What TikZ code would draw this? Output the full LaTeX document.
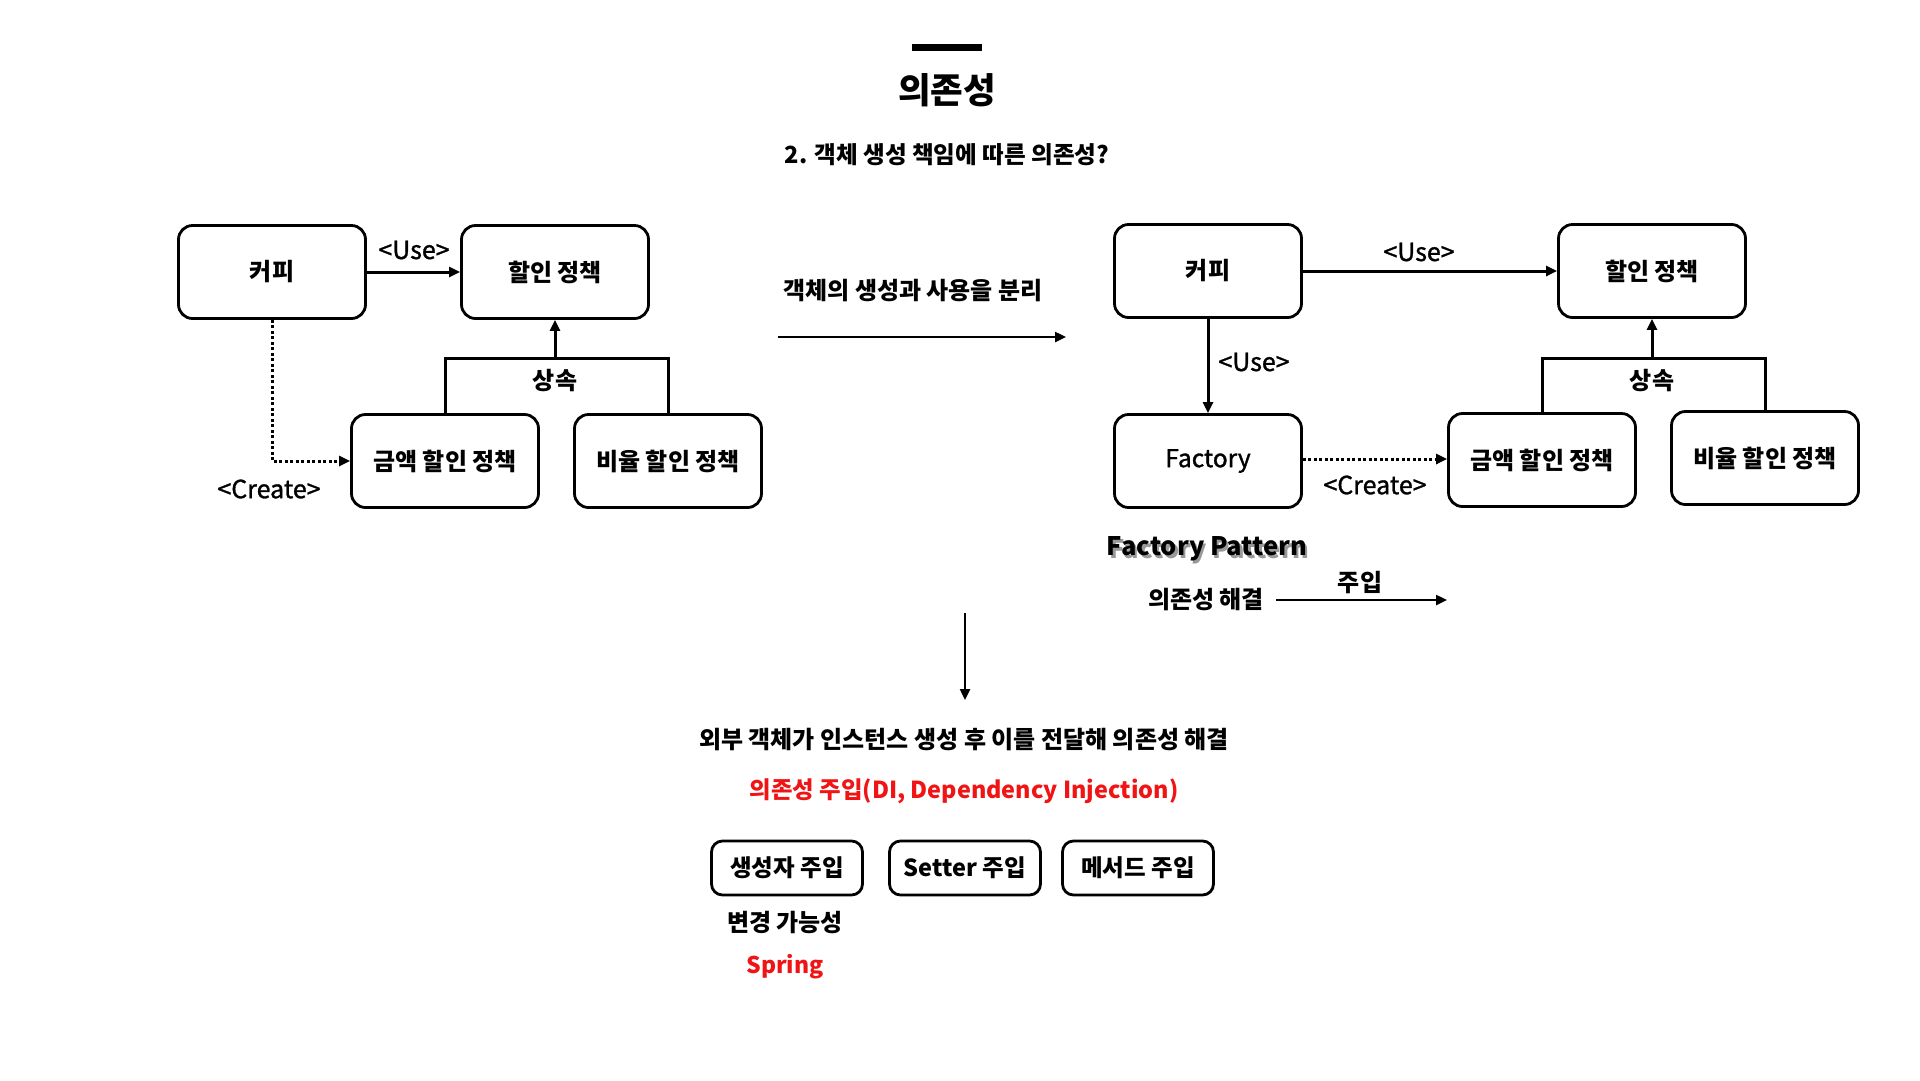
\documentclass[tikz,border=0pt]{standalone}
\usepackage{fontspec}
\setmainfont{Noto Sans CJK KR}
\newfontfamily\medfont{Noto Sans CJK KR}[FakeBold=1.2]
\usetikzlibrary{arrows.meta}
\definecolor{myred}{RGB}{240,20,20}
\tikzset{
  box/.style={draw, line width=2.8pt, rounded corners=14pt, minimum width=187pt, minimum height=93pt, font=\fontsize{24}{28}\selectfont\bfseries, inner sep=0pt},
  sbox/.style={draw, line width=2.8pt, rounded corners=11pt, minimum width=151pt, minimum height=54pt, font=\fontsize{23.5}{28}\selectfont\bfseries, inner sep=0pt},
  arr/.style={line width=3pt, -{Triangle[length=11pt,width=10pt]}},
  thinarr/.style={line width=2.4pt, -{Triangle[length=11pt,width=10pt]}},
  dotarr/.style={line width=3pt, dash pattern=on 3pt off 2.5pt, -{Triangle[length=11pt,width=10pt]}},
  lbl/.style={font=\fontsize{25}{29}\medfont, inner sep=0pt},
  txt/.style={font=\fontsize{24}{28}\selectfont\bfseries, inner sep=0pt},
  redtxt/.style={font=\fontsize{23.4}{27}\selectfont\bfseries, text=myred, inner sep=0pt},
}
\begin{document}
\begin{tikzpicture}[x=1pt,y=-1pt]
\useasboundingbox (0,0) rectangle (1920,1080);
\fill[white] (0,0) rectangle (1920,1080);
% title
\fill (912,44) rectangle (982,51);
\node[font=\fontsize{35.5}{40}\selectfont\bfseries, inner sep=0pt] (title) at (947,90) {의존성};
\node[txt, font=\fontsize{23.6}{28}\selectfont\bfseries] (sub) at (947,155) {2. 객체 생성 책임에 따른 의존성?};

% left section
\node[box] (lcof) at (272,272) {커피};
\node[box] (lhal) at (555,272) {할인 정책};
\node[box] (lkam) at (445,461) {금액 할인 정책};
\node[box] (lrat) at (668,461) {비율 할인 정책};
\draw[arr] (lcof.east) -- (lhal.west);
\node[lbl] (luse) at (414,250) {<Use>};
\coordinate (lcr) at (272,461);
\draw[dotarr] (lcof.south) -- (lcr) -- (lkam.west);
\node[lbl] (lcreate) at (269,489) {<Create>};
\coordinate (lj) at (555,358);
\draw[line width=3pt] (lkam.north) |- (lj) -| (lrat.north);
\draw[arr] (lj) -- (lhal.south);
\node[txt] (linh) at (555,381) {상속};

% middle arrow
\coordinate (ma) at (778,337);
\coordinate (mb) at (1066,337);
\draw[thinarr] (ma) -- (mb);
\node[txt] (sep) at (913,291) {객체의 생성과 사용을 분리};

% right section
\node[box] (rcof) at (1208,271) {커피};
\node[box] (rhal) at (1652,271) {할인 정책};
\node[box, font=\fontsize{24.5}{28}\medfont] (rfac) at (1208,461) {Factory};
\node[box] (rkam) at (1542,460) {금액 할인 정책};
\node[box] (rrat) at (1765,458) {비율 할인 정책};
\draw[arr] (rcof.east) -- (rhal.west);
\node[lbl] (ruse1) at (1419,252) {<Use>};
\draw[arr] (rcof.south) -- (rfac.north);
\node[lbl] (ruse2) at (1254,362) {<Use>};
\draw[dotarr] (rfac.east |- 0,459) -- (rkam.west |- 0,459);
\node[lbl] (rcreate) at (1375,485) {<Create>};
\coordinate (rj) at (1652,358);
\draw[line width=3pt] (rkam.north) |- (rj) -| (rrat.north);
\draw[arr] (rj) -- (rhal.south);
\node[txt] (rinh) at (1652,381) {상속};

% factory pattern
\node[font=\fontsize{25.5}{29}\selectfont\bfseries, text=black!40, inner sep=0pt] (fpshadow) at (1209.5,551.5) {Factory Pattern};
\node[font=\fontsize{25.5}{29}\selectfont\bfseries, inner sep=0pt] (fp) at (1207,549) {Factory Pattern};
\node[txt] (solve) at (1206,600) {의존성 해결};
\coordinate (ia) at (1276,600);
\coordinate (ib) at (1447,600);
\draw[thinarr] (ia) -- (ib);
\node[txt] (inj) at (1360,583) {주입};

% down arrow
\coordinate (da) at (965,613);
\coordinate (db) at (965,700);
\draw[thinarr] (da) -- (db);
\node[txt] (ext) at (964,740) {외부 객체가 인스턴스 생성 후 이를 전달해 의존성 해결};
\node[redtxt] (di) at (964,791) {의존성 주입(DI, Dependency Injection)};

\node[sbox] (b1) at (787,868) {생성자 주입};
\node[sbox] (b2) at (965,868) {Setter 주입};
\node[sbox] (b3) at (1138,868) {메서드 주입};
\node[txt] (chg) at (785,922) {변경 가능성};
\node[redtxt, font=\fontsize{23}{27}\selectfont\bfseries] (spring) at (785,967) {Spring};
\end{tikzpicture}
\end{document}
